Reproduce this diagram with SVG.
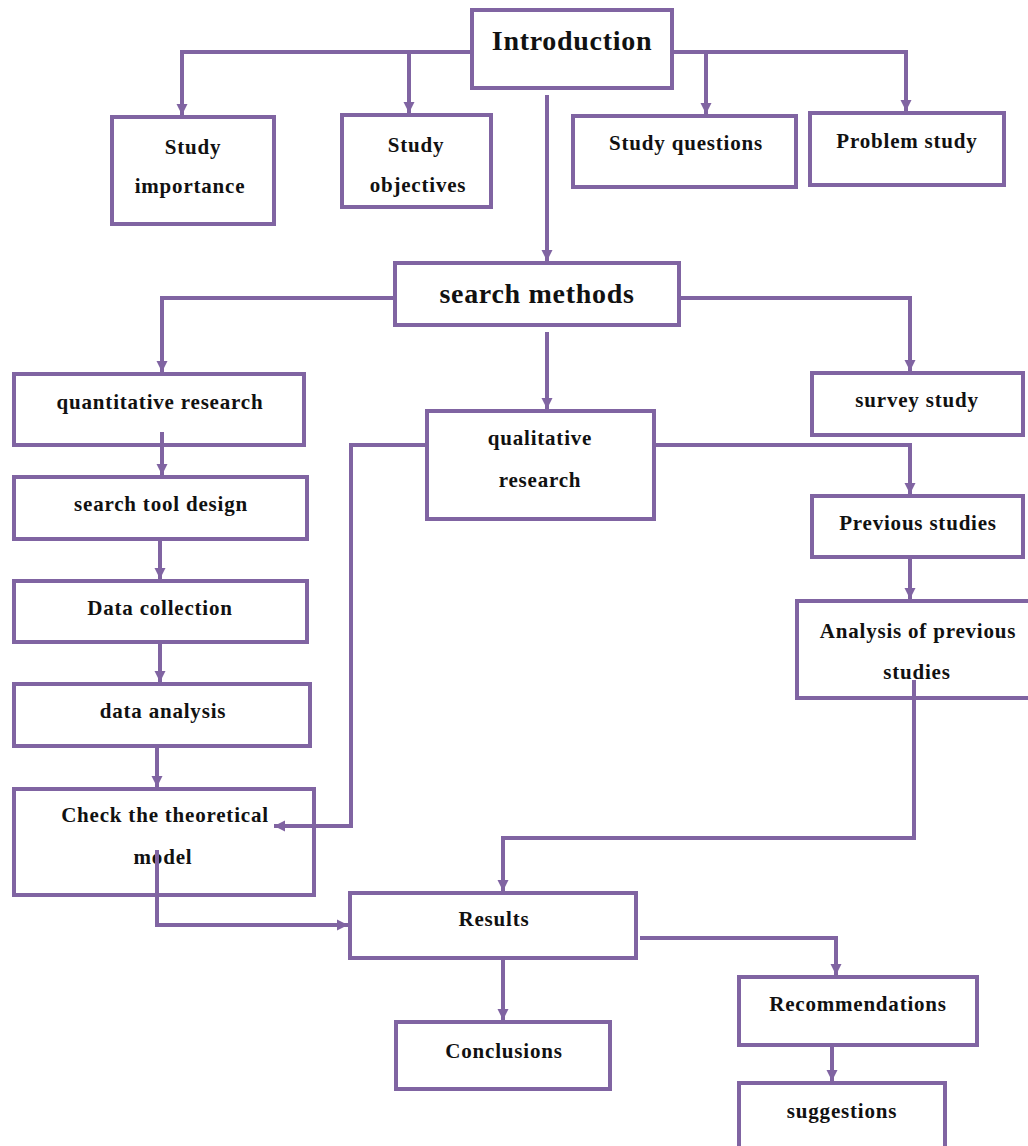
<svg xmlns="http://www.w3.org/2000/svg" width="1028" height="1146" viewBox="0 0 1028 1146">
  <style>
    .box { fill: #ffffff; stroke: #8064A2; stroke-width: 4; }
    .lbl { font-family: "Liberation Serif", "Times New Roman", serif; font-weight: bold; font-size: 21px; letter-spacing: 0.8px; fill: #111111; text-anchor: middle; }
    .big { font-size: 28px; letter-spacing: 0.7px; }
    .wire { fill: none; stroke: #8064A2; stroke-width: 4; marker-end: url(#arrow); }
  </style>
  <defs>
    <marker id="arrow" markerUnits="userSpaceOnUse" markerWidth="12" markerHeight="12" refX="11" refY="6" orient="auto">
      <path d="M0,0.5 L11,6 L0,11.5 z" fill="#8064A2"/>
    </marker>
  </defs>
  <rect width="1028" height="1146" fill="#ffffff"/>

  <!-- nodes -->
  <g id="introduction">
    <rect class="box" x="472" y="10" width="200" height="78"/>
    <text class="lbl big" x="572" y="50">Introduction</text>
  </g>
  <g id="study-importance">
    <rect class="box" x="112" y="117" width="162" height="107"/>
    <text class="lbl" x="193" y="154">Study</text>
    <text class="lbl" x="190" y="193">importance</text>
  </g>
  <g id="study-objectives">
    <rect class="box" x="342" y="115" width="149" height="92"/>
    <text class="lbl" x="416" y="152">Study</text>
    <text class="lbl" x="418" y="192">objectives</text>
  </g>
  <g id="study-questions">
    <rect class="box" x="573" y="116" width="223" height="71"/>
    <text class="lbl" x="686" y="150">Study questions</text>
  </g>
  <g id="problem-study">
    <rect class="box" x="810" y="113" width="194" height="72"/>
    <text class="lbl" x="907" y="148">Problem study</text>
  </g>
  <g id="search-methods">
    <rect class="box" x="395" y="263" width="284" height="62"/>
    <text class="lbl big" x="537" y="303">search methods</text>
  </g>
  <g id="quantitative-research">
    <rect class="box" x="14" y="374" width="290" height="71"/>
    <text class="lbl" x="160" y="409">quantitative research</text>
  </g>
  <g id="qualitative-research">
    <rect class="box" x="427" y="411" width="227" height="108"/>
    <text class="lbl" x="540" y="445">qualitative</text>
    <text class="lbl" x="540" y="487">research</text>
  </g>
  <g id="survey-study">
    <rect class="box" x="812" y="373" width="211" height="62"/>
    <text class="lbl" x="917" y="407">survey study</text>
  </g>
  <g id="search-tool-design">
    <rect class="box" x="14" y="477" width="293" height="62"/>
    <text class="lbl" x="161" y="511">search tool design</text>
  </g>
  <g id="data-collection">
    <rect class="box" x="14" y="581" width="293" height="61"/>
    <text class="lbl" x="160" y="615">Data collection</text>
  </g>
  <g id="data-analysis">
    <rect class="box" x="14" y="684" width="296" height="62"/>
    <text class="lbl" x="163" y="718">data analysis</text>
  </g>
  <g id="check-model">
    <rect class="box" x="14" y="789" width="300" height="106"/>
    <text class="lbl" x="165" y="822">Check the theoretical</text>
    <text class="lbl" x="163" y="864">model</text>
  </g>
  <g id="previous-studies">
    <rect class="box" x="812" y="496" width="211" height="61"/>
    <text class="lbl" x="918" y="530">Previous studies</text>
  </g>
  <g id="analysis-previous">
    <rect class="box" x="797" y="601" width="240" height="97"/>
    <text class="lbl" x="918" y="638">Analysis of previous</text>
    <text class="lbl" x="917" y="679">studies</text>
  </g>
  <g id="results">
    <rect class="box" x="350" y="893" width="286" height="65"/>
    <text class="lbl" x="494" y="926">Results</text>
  </g>
  <g id="conclusions">
    <rect class="box" x="396" y="1022" width="214" height="67"/>
    <text class="lbl" x="504" y="1058">Conclusions</text>
  </g>
  <g id="recommendations">
    <rect class="box" x="739" y="977" width="238" height="68"/>
    <text class="lbl" x="858" y="1011">Recommendations</text>
  </g>
  <g id="suggestions">
    <rect class="box" x="739" y="1083" width="206" height="80"/>
    <text class="lbl" x="842" y="1118">suggestions</text>
  </g>

  <!-- connectors -->
  <g id="connectors">
    <path class="wire" d="M472,52 H182 V115"/>
    <path class="wire" d="M409,52 V113"/>
    <path class="wire" d="M672,52 H906 V111"/>
    <path class="wire" d="M706,52 V114"/>
    <path class="wire" d="M547,95 V261"/>
    <path class="wire" d="M395,298 H162 V372"/>
    <path class="wire" d="M679,298 H910 V371"/>
    <path class="wire" d="M547,332 V409"/>
    <path class="wire" d="M162,432 V475"/>
    <path class="wire" d="M160,539 V579"/>
    <path class="wire" d="M160,642 V682"/>
    <path class="wire" d="M157,746 V787"/>
    <path class="wire" d="M427,445 H351 V826 H274"/>
    <path class="wire" d="M654,445 H910 V494"/>
    <path class="wire" d="M910,557 V599"/>
    <path class="wire" d="M914,680 V838 H503 V891"/>
    <path class="wire" d="M157,850 V925 H348"/>
    <path class="wire" d="M503,958 V1020"/>
    <path class="wire" d="M640,938 H836 V975"/>
    <path class="wire" d="M832,1045 V1081"/>
  </g>
</svg>
